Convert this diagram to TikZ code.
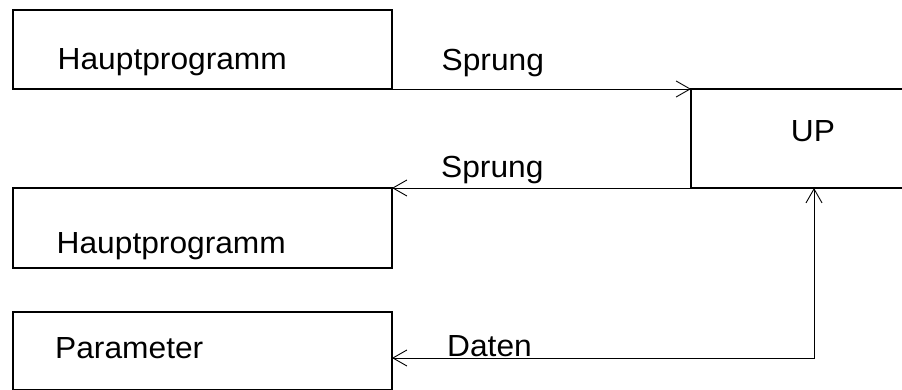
\documentclass[tikz,border=0pt]{standalone}
\usepackage{fontspec}
\setmainfont[FakeStretch=1.04]{Liberation Sans}
\usetikzlibrary{arrows.meta}

\tikzset{
  box/.style={draw=black, line width=2pt, outer sep=0pt, inner sep=0pt, anchor=north west},
  lbl/.style={anchor=base west, inner sep=0pt, font=\fontsize{30.5}{36}\selectfont},
  flow/.style={draw=black, line width=0.9pt,
    arrows={Straight Barb[length=14pt, width=16pt, line width=0.9pt]-}},
  flowboth/.style={draw=black, line width=0.9pt,
    arrows={Straight Barb[length=14pt, width=16pt, line width=0.9pt]-Straight Barb[length=14pt, width=16pt, line width=0.9pt]}}
}

\begin{document}
\begin{tikzpicture}[x=1pt, y=-1pt]
  \clip (0,0) rectangle (902,390);
  \fill[white] (0,0) rectangle (902,390);

  % boxes
  \node[box, minimum width=379pt, minimum height=78.5pt] (hp1) at (13,10.5) {};
  \node[box, minimum width=379pt, minimum height=80pt]   (hp2) at (13,188) {};
  \node[box, minimum width=379pt, minimum height=77.5pt] (par) at (13,312) {};
  \node[box, minimum width=246pt, minimum height=99pt]   (up)  at (691,89) {};

  % box texts
  \node[lbl] (thp1) at (57.5,69.5) {Hauptprogramm};
  \node[lbl] (thp2) at (56.5,253.5) {Hauptprogramm};
  \node[lbl] (tpar) at (55,358.5) {Parameter};
  \node[lbl, anchor=base] (tup) at (813,141.5) {UP};

  % connectors
  \coordinate (dk) at (up.south |- 0,358);
  \draw[flow] (up.north west) -- (hp1.south east);
  \draw[flow] (hp2.north east) -- (up.south west);
  \draw[flowboth] (up.south) -- (dk) -- (par.east |- dk);

  % connector labels
  \node[lbl] (s1) at (441.5,70.5) {Sprung};
  \node[lbl] (s2) at (441,178) {Sprung};
  \node[lbl] (dat) at (447,356) {Daten};
\end{tikzpicture}
\end{document}
